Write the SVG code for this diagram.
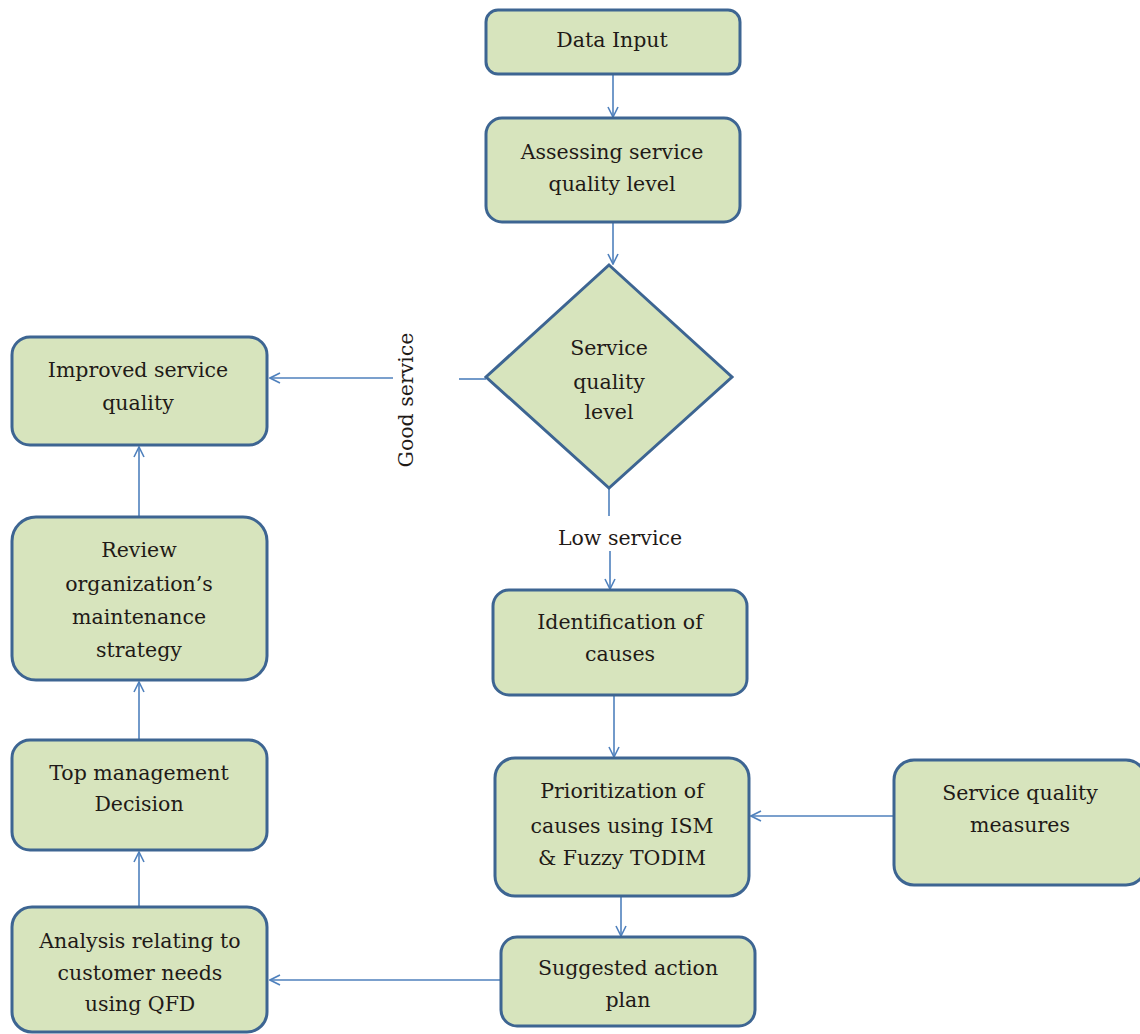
<svg xmlns="http://www.w3.org/2000/svg" width="1140" height="1034" viewBox="0 0 1140 1034">
  <defs>
    <marker id="arrow" viewBox="0 0 12 12" refX="11" refY="6" markerWidth="12" markerHeight="12" markerUnits="userSpaceOnUse" orient="auto">
      <path d="M1,1 L11,6 L1,11" fill="none" stroke="#4f81bd" stroke-width="1.6"/>
    </marker>
    <style>
      .box { fill: #d7e4bd; stroke: #3d6592; stroke-width: 3; }
      .lbl { font-family: "DejaVu Serif", "Liberation Serif", serif; font-size: 20.5px; fill: #1f1a17; text-anchor: middle; }
      .con { fill: none; stroke: #4f81bd; stroke-width: 1.6; }
    </style>
  </defs>
  <rect width="1140" height="1034" fill="#ffffff"/>

  <!-- connectors -->
  <g id="connectors">
    <line class="con" x1="613" y1="74" x2="613" y2="117" marker-end="url(#arrow)"/>
    <line class="con" x1="613" y1="222" x2="613" y2="264" marker-end="url(#arrow)"/>
    <line class="con" x1="486" y1="379" x2="459" y2="379"/>
    <line class="con" x1="393" y1="378" x2="270" y2="378" marker-end="url(#arrow)"/>
    <line class="con" x1="609" y1="488" x2="609" y2="516"/>
    <line class="con" x1="610" y1="551" x2="610" y2="589" marker-end="url(#arrow)"/>
    <line class="con" x1="614" y1="695" x2="614" y2="757" marker-end="url(#arrow)"/>
    <line class="con" x1="894" y1="816" x2="751" y2="816" marker-end="url(#arrow)"/>
    <line class="con" x1="621" y1="896" x2="621" y2="936" marker-end="url(#arrow)"/>
    <line class="con" x1="501" y1="980" x2="270" y2="980" marker-end="url(#arrow)"/>
    <line class="con" x1="139" y1="907" x2="139" y2="852" marker-end="url(#arrow)"/>
    <line class="con" x1="139" y1="740" x2="139" y2="682" marker-end="url(#arrow)"/>
    <line class="con" x1="139" y1="517" x2="139" y2="447" marker-end="url(#arrow)"/>
    <text class="lbl" x="620" y="545">Low service</text>
    <text class="lbl" transform="translate(413 400) rotate(-90)">Good service</text>
  </g>

  <g id="data-input">
    <rect class="box" x="486" y="10" width="254" height="64" rx="12"/>
    <text class="lbl" x="612" y="47">Data Input</text>
  </g>

  <g id="assessing">
    <rect class="box" x="486" y="118" width="254" height="104" rx="16"/>
    <text class="lbl" x="612" y="159">Assessing service</text>
    <text class="lbl" x="612" y="191">quality level</text>
  </g>

  <g id="decision">
    <polygon class="box" points="609,265 732,377 609,488 486,377"/>
    <text class="lbl" x="609" y="355">Service</text>
    <text class="lbl" x="609" y="389">quality</text>
    <text class="lbl" x="609" y="419">level</text>
  </g>

  <g id="improved">
    <rect class="box" x="12" y="337" width="255" height="108" rx="18"/>
    <text class="lbl" x="138" y="377">Improved service</text>
    <text class="lbl" x="138" y="410">quality</text>
  </g>

  <g id="review">
    <rect class="box" x="12" y="517" width="255" height="163" rx="24"/>
    <text class="lbl" x="139" y="557">Review</text>
    <text class="lbl" x="139" y="591">organization’s</text>
    <text class="lbl" x="139" y="624">maintenance</text>
    <text class="lbl" x="139" y="657">strategy</text>
  </g>

  <g id="top-management">
    <rect class="box" x="12" y="740" width="255" height="110" rx="18"/>
    <text class="lbl" x="139" y="780">Top management</text>
    <text class="lbl" x="139" y="811">Decision</text>
  </g>

  <g id="analysis">
    <rect class="box" x="12" y="907" width="255" height="125" rx="20"/>
    <text class="lbl" x="140" y="948">Analysis relating to</text>
    <text class="lbl" x="140" y="980">customer needs</text>
    <text class="lbl" x="140" y="1011">using QFD</text>
  </g>

  <g id="identification">
    <rect class="box" x="493" y="590" width="254" height="105" rx="16"/>
    <text class="lbl" x="620" y="629">Identification of</text>
    <text class="lbl" x="620" y="661">causes</text>
  </g>

  <g id="prioritization">
    <rect class="box" x="495" y="758" width="254" height="138" rx="20"/>
    <text class="lbl" x="622" y="798">Prioritization of</text>
    <text class="lbl" x="622" y="833">causes using ISM</text>
    <text class="lbl" x="622" y="865">&amp; Fuzzy TODIM</text>
  </g>

  <g id="measures">
    <rect class="box" x="894" y="760" width="252" height="125" rx="20"/>
    <text class="lbl" x="1020" y="800">Service quality</text>
    <text class="lbl" x="1020" y="832">measures</text>
  </g>

  <g id="action-plan">
    <rect class="box" x="501" y="937" width="254" height="89" rx="16"/>
    <text class="lbl" x="628" y="975">Suggested action</text>
    <text class="lbl" x="628" y="1007">plan</text>
  </g>
</svg>
